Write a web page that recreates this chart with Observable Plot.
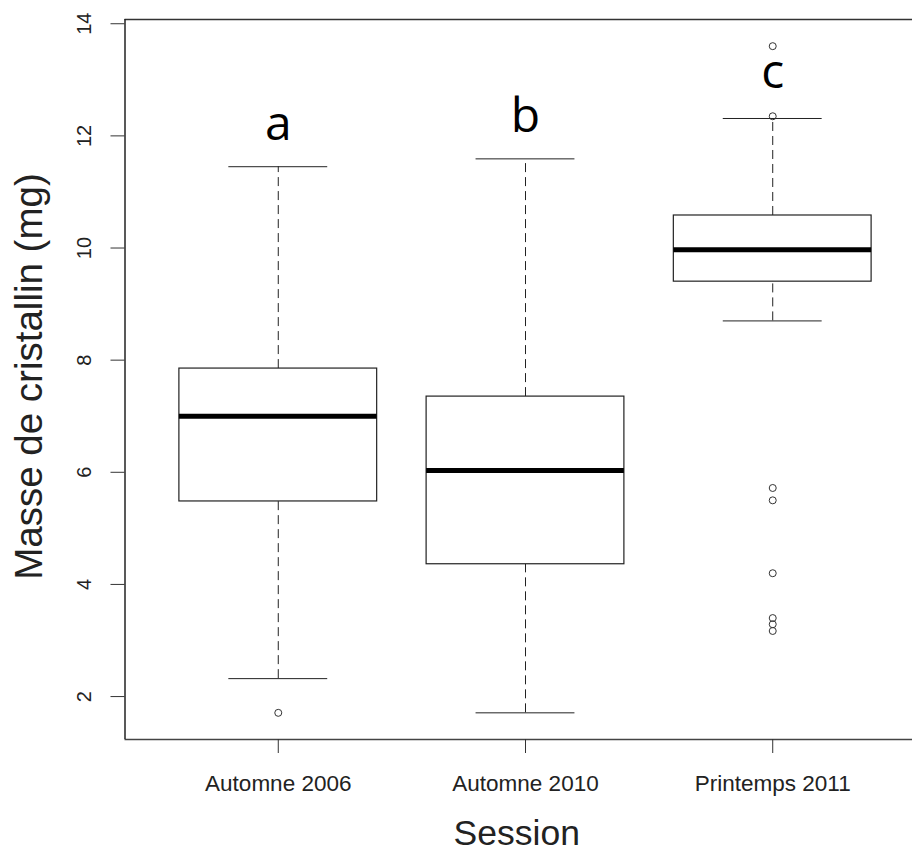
<!DOCTYPE html>
<html><head><meta charset="utf-8">
<script src="https://cdn.jsdelivr.net/npm/d3@7"></script>
<script src="https://cdn.jsdelivr.net/npm/@observablehq/plot@0.6"></script>
<style>body{margin:0;background:#fff}</style>
</head><body><div id="chart"></div>
<script>
const sessions = ["Automne 2006", "Automne 2010", "Printemps 2011"];
const q1 = [5.48, 4.36, 9.40];
const medians = [7.00, 6.03, 9.97];
const q3 = [7.85, 7.35, 10.58];
const whiskerLow = [2.32, 1.71, 8.70];
const whiskerHigh = [11.45, 11.59, 12.31];
const outlierSession = [1, 3, 3, 3, 3, 3, 3, 3, 3];
const outlierValue = [1.71, 13.60, 12.35, 5.72, 5.50, 4.20, 3.40, 3.29, 3.17];
const groupLetters = ["a", "b", "c"];
const letterHeights = [12.2, 12.35, 13.12];
const yTicks = [2, 4, 6, 8, 10, 12, 14];

const boxes = sessions.map((s, i) => ({
  pos: i + 1, session: s, q1: q1[i], median: medians[i], q3: q3[i],
  lo: whiskerLow[i], hi: whiskerHigh[i], letter: groupLetters[i], letterY: letterHeights[i]
}));
const outliers = outlierValue.map((v, i) => ({pos: outlierSession[i], value: v}));

// R-style 4% extension of the data range
const allVals = [...whiskerLow, ...whiskerHigh, ...outlierValue];
const [vmin, vmax] = d3.extent(allVals);
const ext = (vmax - vmin) * 0.04;
const yDomain = [vmin - ext, vmax + ext];
const n = sessions.length;
const xDomain = [0.5 - n * 0.04, n + 0.5 + n * 0.04];

const font = "'Liberation Sans', Arial, sans-serif";
const ink = "#222";

const chart = Plot.plot({
  width: 912,
  height: 852,
  marginLeft: 124.5,
  marginRight: 0,
  marginTop: 19,
  marginBottom: 113,
  style: {fontFamily: font, background: "white", color: ink},
  x: {domain: xDomain, range: [124.5, 925.5], label: null},
  y: {domain: yDomain, label: null},
  marks: [
    // whiskers
    Plot.ruleX(boxes, {x: "pos", y1: "q3", y2: "hi", stroke: ink, strokeDasharray: "9,5"}),
    Plot.ruleX(boxes, {x: "pos", y1: "lo", y2: "q1", stroke: ink, strokeDasharray: "9,5"}),
    Plot.ruleY(boxes, {y: "hi", x1: d => d.pos - 0.2, x2: d => d.pos + 0.2, stroke: ink}),
    Plot.ruleY(boxes, {y: "lo", x1: d => d.pos - 0.2, x2: d => d.pos + 0.2, stroke: ink}),
    // boxes
    Plot.rect(boxes, {x1: d => d.pos - 0.4, x2: d => d.pos + 0.4, y1: "q1", y2: "q3", fill: "white", stroke: ink, strokeWidth: 1.2}),
    Plot.ruleY(boxes, {y: "median", x1: d => d.pos - 0.4, x2: d => d.pos + 0.4, stroke: "black", strokeWidth: 5}),
    // outliers
    Plot.dot(outliers, {x: "pos", y: "value", r: 3.5, stroke: "#333", fill: "none", strokeWidth: 1}),
    // group letters
    Plot.text(boxes, {x: "pos", y: "letterY", text: "letter", fontSize: 48, fontFamily: "'Open Sans', sans-serif", fill: "black", textAnchor: "middle", lineAnchor: "middle"}),
    // frame (L + top; right side is outside the picture)
    Plot.ruleY([yDomain[1]], {stroke: "#333", strokeWidth: 1.5}),
    Plot.ruleY([yDomain[0]], {stroke: "#444", strokeWidth: 1.5}),
    Plot.ruleX([xDomain[0]], {stroke: "#222", strokeWidth: 1.5}),
    // axes ticks
    Plot.axisY({ticks: yTicks, tickSize: 14, tickFormat: () => "", stroke: "#333"}),
    Plot.axisX({ticks: [1, 2, 3], tickSize: 14, tickFormat: () => "", stroke: "#333"}),
    // tick labels
    Plot.text(yTicks, {y: d => d, text: d => String(d), frameAnchor: "left", dx: -40, rotate: -90, fontSize: 20, fill: ink, textAnchor: "middle", lineAnchor: "middle"}),
    Plot.text(boxes, {x: "pos", text: "session", frameAnchor: "bottom", dy: 44, fontSize: 22.5, fill: ink, textAnchor: "middle", lineAnchor: "middle"}),
    // axis titles
    Plot.text(["Session"], {text: d => d, frameAnchor: "bottom", dy: 94, dx: -2, fontSize: 35.5, fill: ink, textAnchor: "middle", lineAnchor: "middle"}),
    Plot.text(["Masse de cristallin (mg)"], {text: d => d, frameAnchor: "left", dx: -95, dy: -3, rotate: -90, fontSize: 38.5, fill: ink, textAnchor: "middle", lineAnchor: "middle"})
  ]
});
document.getElementById("chart").append(chart);
</script>
</body></html>
